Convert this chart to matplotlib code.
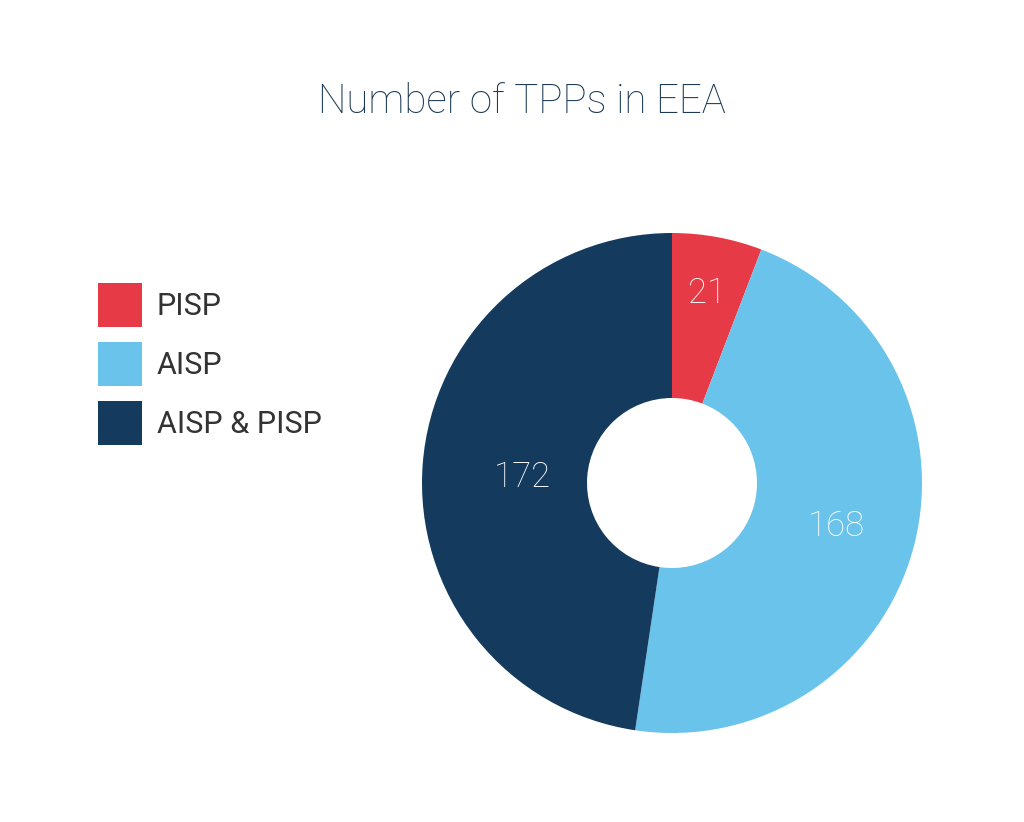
import matplotlib.pyplot as plt
import numpy as np

# chart data
categories = ["PISP", "AISP", "AISP & PISP"]
counts = [21, 168, 172]
colors = ["#E63A47", "#6AC3EA", "#143A5E"]
title = "Number of TPPs in EEA"
# value label placement: fraction of outer radius, and angle nudge (deg)
label_radius = [0.77, 0.68, 0.60]
label_nudge = [0, 0, 2]

plt.rcParams["font.family"] = ["Roboto", "DejaVu Sans"]

W, H = 1024, 822
fig = plt.figure(figsize=(W / 100, H / 100), dpi=100)
ax = fig.add_axes([0, 0, 1, 1])

cx, cy, r = 672, H - 483, 250
wedges, _ = ax.pie(
    counts,
    colors=colors,
    startangle=90,
    counterclock=False,
    center=(cx, cy),
    radius=r,
    wedgeprops=dict(width=r * 0.66, linewidth=0),
)
ax.set_xlim(0, W)
ax.set_ylim(0, H)
ax.set_aspect("equal")
ax.axis("off")

for wedge, value, frac, nudge in zip(wedges, counts, label_radius, label_nudge):
    mid = np.deg2rad((wedge.theta1 + wedge.theta2) / 2 + nudge)
    ax.text(cx + r * frac * np.cos(mid), cy + r * frac * np.sin(mid), str(value),
            color="white", fontsize=25, fontweight="light", ha="center", va="center")

fig.text(522 / W, 1 - 102 / H, title, color="#1B3A57", fontsize=29,
         fontweight="light", ha="center", va="center")

leg = ax.legend(wedges, categories, loc="upper left",
                bbox_to_anchor=(98 / W, 1 - 283 / H), bbox_transform=fig.transFigure,
                frameon=False, fontsize=22, handlelength=1.44, handleheight=1.84,
                handletextpad=0.48, labelspacing=0.49, borderpad=0, borderaxespad=0)
for t in leg.get_texts():
    t.set_color("#333333")

fig.savefig("out.png", dpi=100, facecolor="white")
